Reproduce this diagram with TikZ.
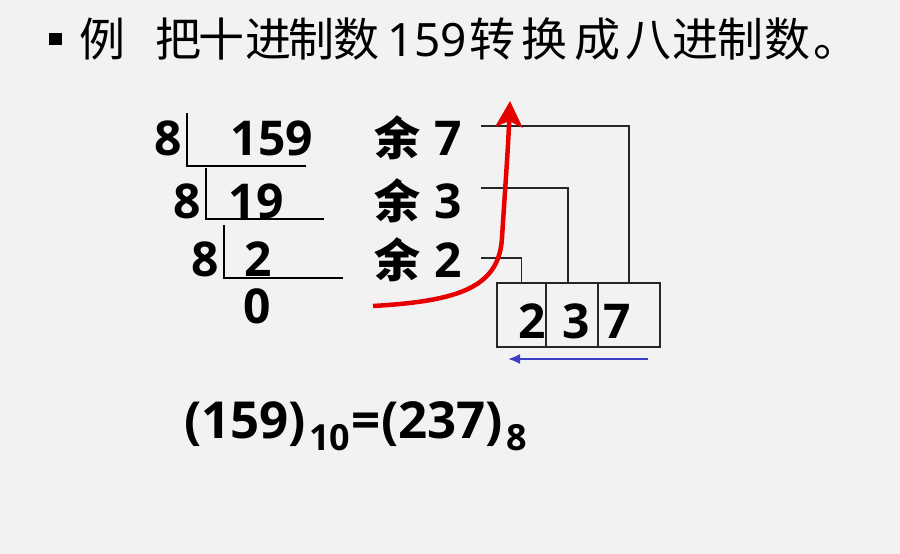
\documentclass[tikz,border=0pt]{standalone}
\usepackage{fontspec}
\newfontfamily\cjk{Noto Sans CJK SC}
\newfontfamily\numf{Open Sans}
\newfontfamily\tnum{Noto Sans}
\usetikzlibrary{arrows.meta}
\definecolor{bg}{HTML}{F2F2F2}
\definecolor{redarr}{HTML}{E80000}
\definecolor{bluearr}{HTML}{3C3CC8}
\begin{document}
\begin{tikzpicture}[x=1pt,y=-1pt,
  title/.style={font=\cjk\fontsize{46}{46}\selectfont, inner sep=0, anchor=base west},
  titlenum/.style={font=\tnum\fontsize{46}{46}\selectfont, inner sep=0, anchor=base east},
  num/.style={font=\numf\bfseries\fontsize{48}{48}\selectfont, inner sep=0, anchor=base},
  yu/.style={font=\cjk\bfseries\fontsize{46}{46}\selectfont, inner sep=0, anchor=base},
  bracket/.style={line width=1.5pt, black},
  conn/.style={line width=1.3pt, black!85},
  cell/.style={draw=black!85, line width=1.3pt, minimum height=64pt, inner sep=0},
  redarrow/.style={line width=4.5pt, redarr, -{Stealth[length=26pt,width=27pt,inset=6pt]}},
  bluearrow/.style={line width=2pt, bluearr, -{Latex[length=12pt,width=10pt]}}
]
\useasboundingbox[fill=bg] (0,0) rectangle (900,554);

% title
\fill (49,33) rectangle (62,45);
\node[title] (t1) at (79,56) {例};
\node[title] (ta) at (155,56) {把};
\node[title] (tb) at (198,56) {十};
\node[title] (tc) at (245,56) {进};
\node[title] (td) at (288,56) {制};
\node[title] (te) at (333,56) {数};
\node[titlenum] (t3) at (467,56) {159};
\node[title] (t4) at (469,56) {转};
\node[title] (t5) at (521,56) {换};
\node[title] (t6) at (574,56) {成};
\node[title] (t7) at (625,56) {八};
\node[title] (t8) at (672,56) {进};
\node[title] (t9) at (717,56) {制};
\node[title] (t10) at (764,56) {数};
\node[title] (t11) at (813,56) {。};

% division
\node[num] (d1) at (168,155) {8};
\node[num] (q1) at (272,155) {159};
\node[num] (d2) at (187,218) {8};
\node[num] (q2) at (256,218) {19};
\node[num] (d3) at (205,276) {8};
\node[num] (q3) at (258,276) {2};
\node[num] (q4) at (257,323) {0};

\draw[bracket] (187,113) -- (187,166) -- (306,166);
\draw[bracket] (206,168) -- (206,219) -- (324,219);
\draw[bracket] (224,225) -- (224,278) -- (343,278);

% remainders
\node[yu] (y1) at (397,155) {余};
\node[num] (r1) at (448,155) {7};
\node[yu] (y2) at (397,218) {余};
\node[num] (r2) at (448,218) {3};
\node[yu] (y3) at (397,277) {余};
\node[num] (r3) at (448,277) {2};

% result cells
\node[cell, minimum width=49pt] (b2) at (521.5,315) {};
\node[cell, minimum width=52pt] (b3) at (572,315) {};
\node[cell, minimum width=62pt] (b7) at (629,315) {};
\node[num] (n2) at (532,338) {2};
\node[num] (n3) at (576.5,338) {3};
\node[num] (n7) at (617.5,338) {7};

% connectors
\coordinate (c1) at (481,126);
\coordinate (c2) at (481,188);
\coordinate (c3) at (481,258);
\draw[conn] (c1) -| (b7.north);
\draw[conn] (c2) -| ([xshift=-4pt]b3.north);
\draw[conn] (c3) -| (b2.north);

% red arrow
\coordinate (rs) at (373,306);
\coordinate (rm) at (502,238);
\coordinate (rt) at (510,101);
\draw[redarrow] (rs) .. controls (460,301) and (499,287) .. (rm)
  .. controls (505,190) and (508,150) .. (rt);

% blue arrow
\coordinate (ba) at (648,359);
\coordinate (bb) at (508,359);
\draw[bluearrow] (ba) -- (bb);

% equation
\node[anchor=base west, inner sep=0, font=\numf\bfseries] (eq) at (184,438)
  {\fontsize{51}{51}\selectfont(159)\kern3pt\raisebox{-12pt}{\fontsize{36}{36}\selectfont 10}\kern1pt=\kern1pt(237)\kern3pt\raisebox{-12pt}{\fontsize{36}{36}\selectfont 8}};
\end{tikzpicture}
\end{document}
